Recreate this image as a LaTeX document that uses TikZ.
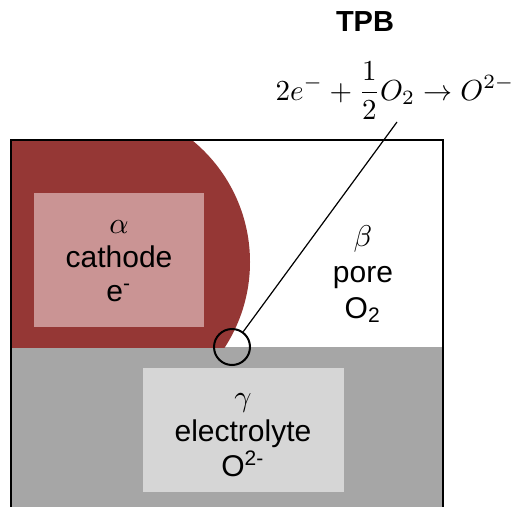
\documentclass[tikz,border=0pt]{standalone}
\usepackage{fontspec}
\setmainfont{Liberation Sans}
\definecolor{cathred}{RGB}{149,55,53}
\definecolor{cathpink}{RGB}{202,148,148}
\definecolor{elgrey}{RGB}{166,166,166}
\definecolor{elbox}{RGB}{214,214,214}
\tikzset{
  lbl/.style={align=center, inner sep=0pt, scale=3, font=\fontsize{10}{11.3}\selectfont},
  ringnode/.style={circle, draw=black, line width=2pt, minimum size=36pt, inner sep=0pt},
}
\begin{document}
\begin{tikzpicture}[x=1pt,y=-1pt]
\useasboundingbox (0,0) rectangle (513,506);
\clip (0,0) rectangle (513,506);
% electrolyte
\fill[elgrey] (12,347) rectangle (443,510);
% cathode
\begin{scope}
  \clip (12,141) rectangle (443,347);
  \fill[cathred] (93,262) circle[radius=157pt];
\end{scope}
\fill[cathpink] (34,193) rectangle (204,327);
\fill[elbox] (143,368) rectangle (344,492);
% outer frame
\draw[line width=2.5pt, line join=miter] (11,520) -- (11,140) -- (443,140) -- (443,520);
% labels
\node[lbl] (cat) at (119,261) {$\alpha$\\cathode\\e\textsuperscript{-}};
\node[lbl] (pore) at (363,274) {$\beta$\\[0.7pt]pore\\[0.7pt]O\textsubscript{2}};
\node[lbl] (elec) at (243,435) {$\gamma$\\[0.4pt]electrolyte\\[0.4pt]O\textsuperscript{2-}};
% TPB
\node[ringnode] (tpb) at (232,347) {};
\coordinate (lt) at (397,122);
\draw[line width=1.2pt] (tpb) -- (lt);
\node[scale=2.9, font=\bfseries, inner sep=0pt] (ttl) at (365,22) {TPB};
\node[anchor=base, inner sep=0pt, scale=2.9] (eq) at (395,100) {$\displaystyle 2e^{-}+\frac{1}{2}O_2\rightarrow O^{2-}$};
\end{tikzpicture}
\end{document}
